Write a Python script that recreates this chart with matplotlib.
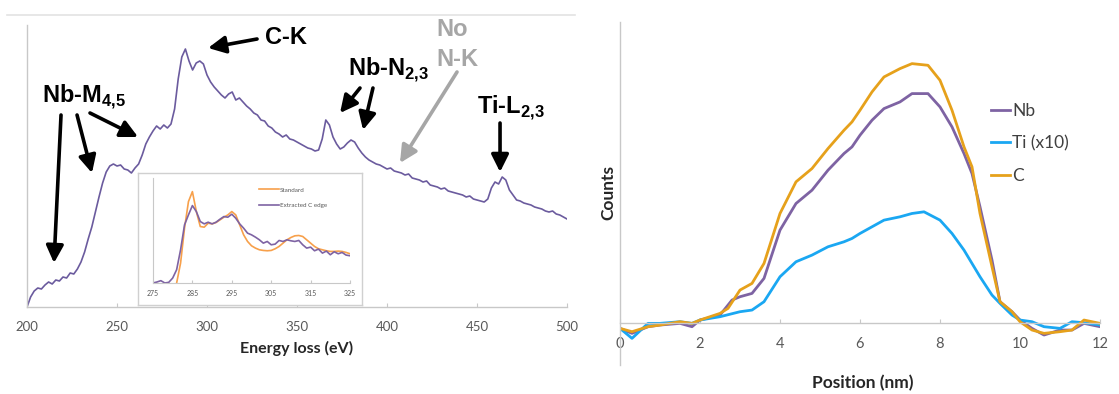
import matplotlib
matplotlib.use("Agg")
import matplotlib.pyplot as plt
import numpy as np
from matplotlib.lines import Line2D

plt.rcParams['font.family'] = ['Lato', 'DejaVu Sans']
plt.rcParams['mathtext.fontset'] = 'custom'
plt.rcParams['mathtext.rm'] = 'Liberation Sans'
plt.rcParams['mathtext.bf'] = 'Liberation Sans:bold'

# ---------------- data: EELS spectrum ----------------
energy = list(range(200, 501, 2))
spectrum = [0, 10, 16, 19, 18, 22, 25, 23, 27, 26,
            30, 29, 34, 33, 38, 45, 55, 68, 80, 95,
            110, 124, 135, 141, 143, 141, 142, 138, 137, 134,
            139, 143, 152, 163, 170, 176, 181, 178, 182, 179,
            183, 198, 228, 250, 258, 246, 237, 244, 246, 243,
            232, 225, 220, 216, 212, 209, 213, 215, 207, 209,
            205, 201, 198, 194, 192, 187, 186, 181, 179, 175,
            173, 170, 172, 168, 167, 165, 163, 161, 159, 158,
            156, 157, 168, 187, 182, 170, 163, 158, 160, 164,
            167, 165, 159, 154, 150, 147, 145, 143, 142, 140,
            138, 139, 136, 135, 134, 132, 133, 129, 128, 127,
            125, 126, 122, 121, 120, 118, 119, 116, 115, 114,
            113, 112, 110, 111, 108, 107, 106, 105, 108, 119,
            125, 123, 130, 127, 117, 112, 107, 106, 104, 103,
            102, 100, 99, 98, 96, 95, 96, 93, 92, 90, 88]

# ---------------- data: inset C-K edge ----------------
inset_energy = list(range(275, 326))
extracted = [0, 3, 7, 0, 2, 15, 40, 100, 175, 205,
             233, 215, 185, 178, 183, 178, 183, 192, 200, 198,
             207, 195, 178, 165, 150, 145, 138, 130, 120, 125,
             115, 117, 128, 125, 130, 127, 125, 128, 115, 105,
             108, 97, 102, 90, 96, 85, 94, 88, 92, 84, 82]
standard_energy = list(range(281, 326))
standard = [0, 60, 165, 245, 275, 215, 170, 168, 180, 178,
            182, 190, 198, 205, 215, 205, 175, 145, 125, 112,
            105, 100, 98, 97, 98, 103, 110, 120, 130, 137,
            142, 143, 140, 130, 120, 110, 103, 100, 97, 95,
            95, 96, 95, 92, 88]

# ---------------- data: line profiles ----------------
pos_nb = [0, 0.3, 0.7, 1, 1.5, 1.8, 2, 2.5, 2.8, 3.0, 3.3, 3.6, 4, 4.4, 4.8, 5.2,
          5.6, 5.8, 6.0, 6.3, 6.6, 7.0, 7.3, 7.7, 8.0, 8.3, 8.6, 8.8, 9.0, 9.3,
          9.5, 9.8, 10, 10.3, 10.6, 11, 11.3, 11.6, 12]
nb = [-15, -30, -10, -5, 0, -10, 10, 25, 70, 80, 90, 135, 280, 360, 400, 460,
      510, 530, 565, 610, 645, 665, 690, 690, 650, 590, 510, 450, 350, 190,
      65, 35, 10, -15, -35, -20, -20, 0, -10]
pos_c = [0, 0.3, 0.7, 1, 1.5, 1.8, 2, 2.5, 2.7, 3.0, 3.3, 3.6, 4, 4.4, 4.8, 5.2,
         5.6, 5.8, 6.0, 6.3, 6.6, 7.0, 7.3, 7.7, 8.0, 8.3, 8.6, 8.8, 9.0, 9.3,
         9.5, 9.8, 10, 10.3, 10.6, 11, 11.3, 11.6, 12]
c = [-15, -25, -10, -5, 5, 0, 10, 30, 45, 100, 120, 180, 330, 425, 465, 525,
     580, 605, 640, 695, 740, 765, 780, 775, 730, 640, 530, 470, 330, 170,
     65, 35, 5, -20, -30, -25, -20, 10, 0]
pos_ti = [0, 0.3, 0.7, 1, 1.5, 1.8, 2, 2.5, 3.0, 3.3, 3.6, 4, 4.4, 4.8, 5.2,
          5.6, 5.8, 6.0, 6.3, 6.6, 7.0, 7.3, 7.6, 8.0, 8.3, 8.6, 9.0, 9.3,
          9.5, 9.8, 10, 10.3, 10.6, 11, 11.3, 11.6, 12]
ti = [-15, -45, 0, 0, 5, 0, 10, 20, 35, 40, 65, 140, 185, 205, 230,
      245, 255, 270, 290, 310, 320, 330, 335, 310, 270, 220, 140, 85,
      60, 25, 10, 5, -10, -15, 5, 2, -5]

purple_spec = '#6B5B9E'
purple = '#7E63A3'
blue = '#1AA7F2'
gold = '#E6A11B'
orange = '#F7A04B'
axis_grey = '#C8C8C8'
tick_grey = '#595959'

W, H = 1119, 394
fig = plt.figure(figsize=(W / 100, H / 100), dpi=100)

def fx(px):
    return px / W

def fy(py):
    return 1 - py / H

# top grey line
fig.add_artist(Line2D([fx(7), fx(575)], [fy(15), fy(15)], color='#E3E3E3', lw=1.2))

# ---------------- left: spectrum ----------------
ax1 = fig.add_axes([fx(27), fy(307), fx(567) - fx(27), fy(25) - fy(307)])
ax1.plot(energy, spectrum, color=purple_spec, lw=1.2)
ax1.set_xlim(200, 500)
ax1.set_ylim(0, 282)
ax1.set_xticks(range(200, 501, 50))
ax1.set_yticks([])
for s in ['top', 'right']:
    ax1.spines[s].set_visible(False)
for s in ['left', 'bottom']:
    ax1.spines[s].set_color(axis_grey)
    ax1.spines[s].set_linewidth(1)
ax1.tick_params(axis='x', colors=axis_grey, length=3, direction='in', labelcolor=tick_grey,
                labelsize=9.5, pad=10)
ax1.set_xlabel('Energy loss (eV)', fontsize=11.5, fontweight='bold', color='#262626', labelpad=6)

txt = dict(fontsize=17, fontweight='bold', family='Liberation Sans', color='black')
arw = dict(arrowstyle='-|>', lw=2.6, color='black', mutation_scale=26, shrinkA=0, shrinkB=0)
arw_g = dict(arrowstyle='-|>', lw=2.6, color='#A6A6A6', mutation_scale=26, shrinkA=0, shrinkB=0)

ax1.text(208.3, 210, r'Nb-M$_{\mathbf{4{,}5}}$', ha='left', va='center', **txt)
for tail, tip in [((218.9, 192), (215, 44)), ((227.8, 192), (236.1, 134)), ((235, 194), (261.7, 170))]:
    ax1.annotate('', xy=tip, xytext=tail, arrowprops=arw, annotation_clip=False)

ax1.text(332.2, 270, 'C-K', ha='left', va='center', **txt)
ax1.annotate('', xy=(300.6, 259), xytext=(327.8, 268), arrowprops=arw, annotation_clip=False)

ax1.text(378.3, 237, r'Nb-N$_{\mathbf{2{,}3}}$', ha='left', va='center', **txt)
ax1.annotate('', xy=(373.9, 194), xytext=(385, 219), arrowprops=arw, annotation_clip=False)
ax1.annotate('', xy=(386.7, 177), xytext=(392.2, 219), arrowprops=arw, annotation_clip=False)

txt_g = dict(txt)
txt_g['color'] = '#A6A6A6'
ax1.text(436.1, 278, 'No', ha='center', va='center', **txt_g)
ax1.text(438.9, 247, 'N-K', ha='center', va='center', **txt_g)
ax1.annotate('', xy=(407.2, 144), xytext=(438.9, 235), arrowprops=arw_g, annotation_clip=False)

ax1.text(450, 199, r'Ti-L$_{\mathbf{2{,}3}}$', ha='left', va='center', **txt)
ax1.annotate('', xy=(462.8, 135), xytext=(462.8, 184), arrowprops=arw, annotation_clip=False)

# ---------------- inset ----------------
axbox = fig.add_axes([fx(138), fy(305), fx(362) - fx(138), fy(173) - fy(305)], zorder=3)
axbox.set_xticks([])
axbox.set_yticks([])
for s in axbox.spines.values():
    s.set_color('#D0D0D0')
    s.set_linewidth(1)

axi = fig.add_axes([fx(153), fy(283), fx(350) - fx(153), fy(178) - fy(283)], zorder=4)
axi.plot(standard_energy, standard, color=orange, lw=1.2, label='Standard')
axi.plot(inset_energy, extracted, color=purple, lw=1.2, label='Extracted C edge')
axi.set_xlim(275, 325)
axi.set_ylim(0, 316)
axi.set_xticks(range(275, 326, 10))
axi.set_yticks([])
for s in ['top', 'right']:
    axi.spines[s].set_visible(False)
for s in ['left', 'bottom']:
    axi.spines[s].set_color(axis_grey)
    axi.spines[s].set_linewidth(0.8)
axi.tick_params(axis='x', colors=axis_grey, length=2, direction='in', labelcolor=tick_grey,
                labelsize=5, pad=5)
axi.patch.set_alpha(0)
axi.legend(loc='upper left', bbox_to_anchor=(fx(256), fy(184)), bbox_transform=fig.transFigure,
           frameon=False, fontsize=4.5, handlelength=3.2, handletextpad=0.1, labelspacing=1.6,
           borderpad=0, labelcolor=tick_grey)

# ---------------- right: profiles ----------------
ax2 = fig.add_axes([fx(620), fy(365), fx(1100) - fx(620), fy(22) - fy(365)])
ax2.plot(pos_nb, nb, color=purple, lw=2, label='Nb')
ax2.plot(pos_ti, ti, color=blue, lw=2, label='Ti (x10)')
ax2.plot(pos_c, c, color=gold, lw=2, label='C')
ax2.set_xlim(0, 12)
ax2.set_ylim(-125, 905)
ax2.set_xticks(range(0, 13, 2))
ax2.set_yticks([])
for s in ['top', 'right']:
    ax2.spines[s].set_visible(False)
ax2.spines['bottom'].set_position(('data', 0))
for s in ['left', 'bottom']:
    ax2.spines[s].set_color(axis_grey)
    ax2.spines[s].set_linewidth(1)
ax2.tick_params(axis='x', colors=axis_grey, length=3, direction='in', labelcolor=tick_grey,
                labelsize=10.5, pad=10)
fig.text(fx(863), fy(383), 'Position (nm)', ha='center', va='center', fontsize=12.5,
         fontweight='bold', color='#262626')
fig.text(fx(608), fy(193), 'Counts', ha='center', va='center', rotation=90, fontsize=12.5,
         fontweight='bold', color='#262626')
ax2.legend(loc='upper left', bbox_to_anchor=(fx(982), fy(94)), bbox_transform=fig.transFigure,
           frameon=False, fontsize=12.5, handlelength=1.1, handletextpad=0.15, labelspacing=0.95,
           borderpad=0, labelcolor='#404040')

fig.savefig('out.png', dpi=100)
